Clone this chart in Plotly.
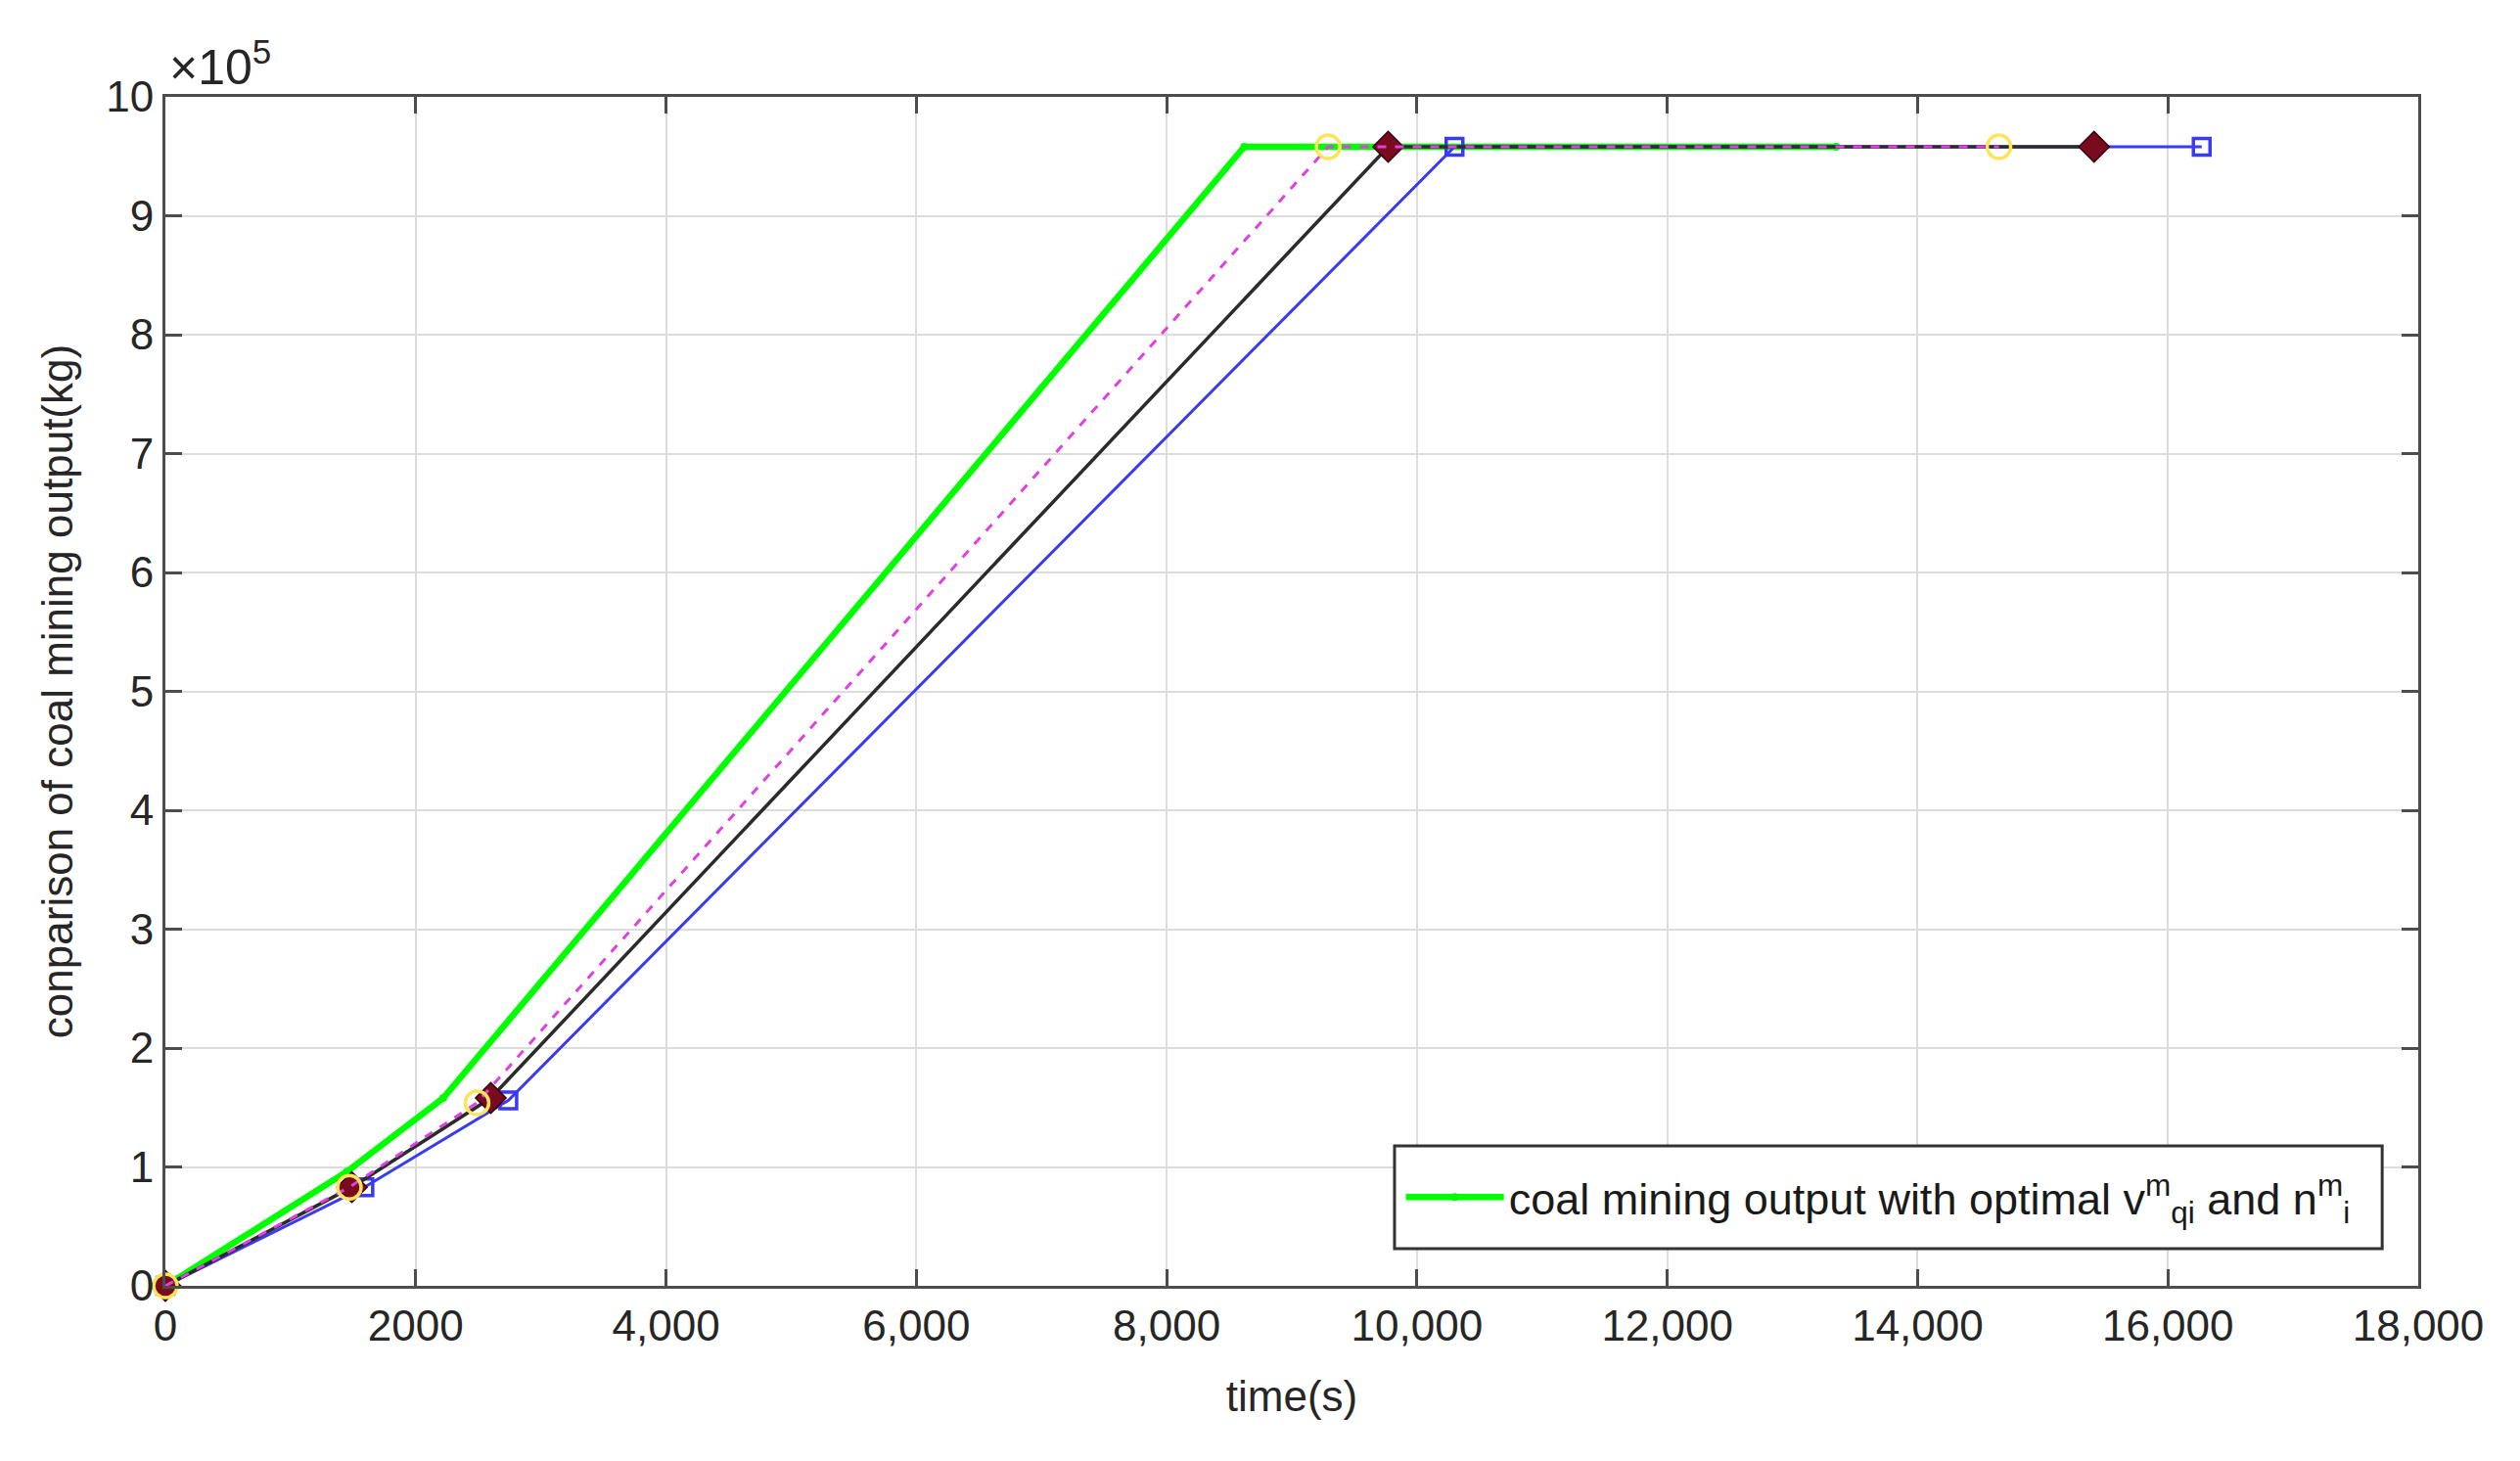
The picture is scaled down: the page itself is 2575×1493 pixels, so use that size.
import plotly.graph_objects as go

# ---- data ----
green_x = [0, 1450, 2220, 8620, 13350]
green_y = [0, 96000, 158000, 958000, 958000]

magenta_x = [0, 1470, 2490, 9290, 14650]
magenta_y = [0, 83000, 154000, 958000, 958000]

black_x = [0, 1490, 2600, 9770, 15410]
black_y = [0, 83000, 158000, 958000, 958000]

blue_x = [0, 1590, 2740, 10300, 16270]
blue_y = [0, 83000, 156000, 958000, 958000]

x_tickvals = [0, 2000, 4000, 6000, 8000, 10000, 12000, 14000, 16000, 18000]
x_ticktext = ["0", "2000", "4,000", "6,000", "8,000", "10,000", "12,000", "14,000", "16,000", "18,000"]
y_tickvals = [0, 100000, 200000, 300000, 400000, 500000, 600000, 700000, 800000, 900000, 1000000]
y_ticktext = ["0", "1", "2", "3", "4", "5", "6", "7", "8", "9", "10"]

legend_label = "coal mining output with optimal v<sup>m</sup><sub>qi</sub> and n<sup>m</sup><sub>i</sub>"

FONT = "Liberation Sans, Arial, Helvetica, sans-serif"
TXT = "#262626"

fig = go.Figure()

fig.add_trace(go.Scatter(
    x=green_x, y=green_y, mode="lines+markers", name=legend_label,
    line=dict(color="#00ff00", width=6.5),
    marker=dict(symbol="circle", size=8, color="#00ff00"),
    showlegend=True, cliponaxis=False,
))
fig.add_trace(go.Scatter(
    x=blue_x, y=blue_y, mode="lines+markers",
    line=dict(color="#3a3af0", width=3),
    marker=dict(symbol="square-open", size=17, color="#3a3af0", line=dict(width=3.5)),
    showlegend=False, cliponaxis=False,
))
fig.add_trace(go.Scatter(
    x=black_x, y=black_y, mode="lines+markers",
    line=dict(color="#2b2b2b", width=3.5),
    marker=dict(symbol="diamond", size=24, color="#7a0a1e", line=dict(color="#3a0010", width=1.5)),
    showlegend=False, cliponaxis=False,
))
fig.add_trace(go.Scatter(
    x=magenta_x, y=magenta_y, mode="lines+markers",
    line=dict(color="#e040e0", width=3, dash="dash"),
    marker=dict(symbol="circle-open", size=24, color="#ffe45a", line=dict(width=3.5)),
    showlegend=False, cliponaxis=False,
))

axis_common = dict(
    showline=True, linecolor="#4d4d4d", linewidth=3, mirror="ticks",
    ticks="inside", ticklen=17, tickwidth=3, tickcolor="#4d4d4d",
    showgrid=True, gridcolor="#dcdcdc", gridwidth=2, zeroline=False,
    tickfont=dict(family=FONT, size=44, color=TXT),
)

fig.update_layout(
    width=2575, height=1493,
    margin=dict(l=161, r=112, t=91, b=187),
    paper_bgcolor="white", plot_bgcolor="white",
    font=dict(family=FONT, color=TXT),
    xaxis=dict(
        range=[0, 18000], tickvals=x_tickvals, ticktext=x_ticktext,
        title=dict(text="time(s)", font=dict(family=FONT, size=44, color=TXT), standoff=34),
        **axis_common,
    ),
    yaxis=dict(
        range=[0, 1000000], tickvals=y_tickvals, ticktext=y_ticktext,
        title=dict(text="conparison of coal mining output(kg)", font=dict(family=FONT, size=44, color=TXT), standoff=20),
        **axis_common,
    ),
    legend=dict(
        x=0.5485, y=0.0745, xanchor="left", yanchor="middle",
        bgcolor="rgba(0,0,0,0)", borderwidth=0,
        font=dict(family=FONT, size=45, color="#1a1a1a"),
        itemwidth=100,
    ),
    showlegend=True,
    shapes=[dict(
        type="rect", xref="paper", yref="paper",
        x0=0.5456, x1=0.984, y0=0.0313, y1=0.1177,
        line=dict(color="#333333", width=3), fillcolor="white", layer="above",
        opacity=1,
    )],
)

# draw legend box beneath the legend text: shape with layer 'above' sits over traces; legend is drawn on top of shapes
fig.add_annotation(
    xref="paper", yref="paper", x=0.0, y=1.0, xanchor="left", yanchor="bottom",
    text="×10<sup>5</sup>", showarrow=False, yshift=0, xshift=2,
    font=dict(family=FONT, size=50, color=TXT),
)

fig.write_html("out.html")
